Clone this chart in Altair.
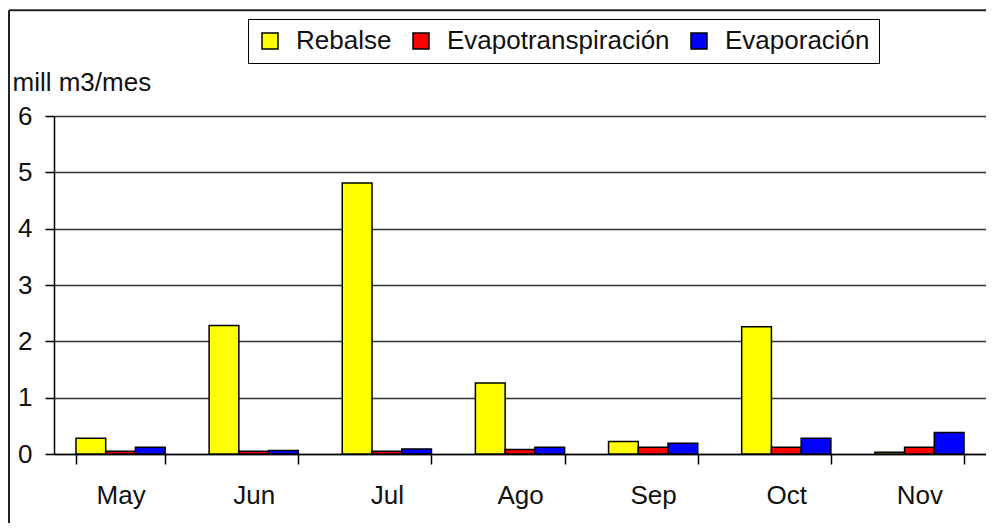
import altair as alt
import pandas as pd

months = ["May", "Jun", "Jul", "Ago", "Sep", "Oct", "Nov"]
series = ["Rebalse", "Evapotranspiración", "Evaporación"]
rebalse = [0.28, 2.28, 4.81, 1.26, 0.22, 2.26, 0.03]
evapotranspiracion = [0.05, 0.05, 0.05, 0.08, 0.12, 0.12, 0.12]
evaporacion = [0.12, 0.06, 0.09, 0.12, 0.19, 0.28, 0.38]
colors = ["#FFFF00", "#FF0000", "#0000FF"]
y_ticks = [0, 1, 2, 3, 4, 5, 6]

rows = []
for name, vals in zip(series, [rebalse, evapotranspiracion, evaporacion]):
    for m, v in zip(months, vals):
        rows.append({"mes": m, "serie": name, "valor": v})
df = pd.DataFrame(rows)

FONT = "Liberation Sans"
TXT = "#111111"

bars = alt.Chart(df).mark_bar(stroke="black", strokeWidth=1.5).encode(
    x=alt.X("mes:N", sort=months,
            scale=alt.Scale(paddingInner=0.33, paddingOuter=0.165),
            axis=alt.Axis(title=None, labelAngle=0, tickBand="extent",
                          tickSize=10, tickColor="black", tickWidth=1.5,
                          domainColor="black", domainWidth=1.5,
                          labelFontSize=26, labelFont=FONT, labelColor=TXT,
                          labelPadding=18, grid=False)),
    xOffset=alt.XOffset("serie:N", sort=series,
                        scale=alt.Scale(paddingInner=0, paddingOuter=0)),
    y=alt.Y("valor:Q",
            scale=alt.Scale(domain=[0, 6], nice=False),
            axis=alt.Axis(values=y_ticks, title="mill m3/mes",
                          titleAngle=0, titleAlign="left", titleBaseline="alphabetic",
                          titleX=-42, titleY=-26, titleFontSize=26, titleFont=FONT,
                          titleFontWeight="normal", titleColor=TXT,
                          labelFontSize=26, labelFont=FONT, labelColor=TXT,
                          labelPadding=13, tickSize=9, tickColor="black", tickWidth=1.5,
                          domainColor="black", domainWidth=1.5,
                          grid=True, gridColor="#333333", gridWidth=1.5)),
    color=alt.Color("serie:N", sort=series,
                    scale=alt.Scale(domain=series, range=colors),
                    legend=alt.Legend(title=None, orient="none", legendX=194, legendY=-97,
                                      direction="horizontal", symbolType="square",
                                      symbolSize=256, symbolStrokeColor="black",
                                      symbolStrokeWidth=1.5, symbolOpacity=1,
                                      labelFontSize=26, labelFont=FONT, labelColor=TXT,
                                      labelLimit=0, labelOffset=13, columnPadding=16,
                                      padding=9, strokeColor="black")),
)

frame_df = pd.DataFrame({"k": [0]})
frame_left = alt.Chart(frame_df).mark_rule(color="#222222", strokeWidth=2).encode(
    x=alt.value(-45), y=alt.value(-105.7), y2=alt.value(420))
frame_top = alt.Chart(frame_df).mark_rule(color="#222222", strokeWidth=2).encode(
    x=alt.value(-45), x2=alt.value(940), y=alt.value(-105.7))

chart = alt.layer(bars, frame_left, frame_top).properties(
    width=932, height=338,
    autosize=alt.AutoSizeParams(type="none"),
    padding={"left": 46, "top": 108, "right": 0, "bottom": 69},
).configure_view(stroke="#999999", strokeWidth=1.5).configure(background="white")

chart.save("out.html", embed_options={"renderer": "svg", "actions": False})
